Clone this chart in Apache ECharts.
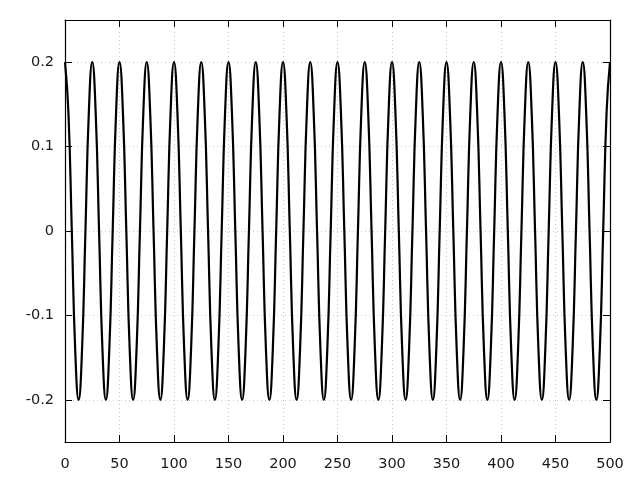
<!DOCTYPE html>
<html>
<head>
<meta charset="utf-8">
<script src="https://cdn.jsdelivr.net/npm/echarts@6/dist/echarts.min.js"></script>
<style>html,body{margin:0;padding:0;background:#fff}#c{width:640px;height:480px}</style>
</head>
<body>
<div id="c"></div>
<script>
const xValues = [
0,3.125,6.25,9.375,12.5,15.625,18.75,21.875,
25,28.125,31.25,34.375,37.5,40.625,43.75,46.875,
50,53.125,56.25,59.375,62.5,65.625,68.75,71.875,
75,78.125,81.25,84.375,87.5,90.625,93.75,96.875,
100,103.125,106.25,109.375,112.5,115.625,118.75,121.875,
125,128.125,131.25,134.375,137.5,140.625,143.75,146.875,
150,153.125,156.25,159.375,162.5,165.625,168.75,171.875,
175,178.125,181.25,184.375,187.5,190.625,193.75,196.875,
200,203.125,206.25,209.375,212.5,215.625,218.75,221.875,
225,228.125,231.25,234.375,237.5,240.625,243.75,246.875,
250,253.125,256.25,259.375,262.5,265.625,268.75,271.875,
275,278.125,281.25,284.375,287.5,290.625,293.75,296.875,
300,303.125,306.25,309.375,312.5,315.625,318.75,321.875,
325,328.125,331.25,334.375,337.5,340.625,343.75,346.875,
350,353.125,356.25,359.375,362.5,365.625,368.75,371.875,
375,378.125,381.25,384.375,387.5,390.625,393.75,396.875,
400,403.125,406.25,409.375,412.5,415.625,418.75,421.875,
425,428.125,431.25,434.375,437.5,440.625,443.75,446.875,
450,453.125,456.25,459.375,462.5,465.625,468.75,471.875,
475,478.125,481.25,484.375,487.5,490.625,493.75,496.875,
500
];
const yValues = [
0.2,0.141,0,-0.141,-0.2,-0.141,0,0.141,
0.2,0.141,0,-0.141,-0.2,-0.141,0,0.141,
0.2,0.141,0,-0.141,-0.2,-0.141,0,0.141,
0.2,0.141,0,-0.141,-0.2,-0.141,0,0.141,
0.2,0.141,0,-0.141,-0.2,-0.141,0,0.141,
0.2,0.141,0,-0.141,-0.2,-0.141,0,0.141,
0.2,0.141,0,-0.141,-0.2,-0.141,0,0.141,
0.2,0.141,0,-0.141,-0.2,-0.141,0,0.141,
0.2,0.141,0,-0.141,-0.2,-0.141,0,0.141,
0.2,0.141,0,-0.141,-0.2,-0.141,0,0.141,
0.2,0.141,0,-0.141,-0.2,-0.141,0,0.141,
0.2,0.141,0,-0.141,-0.2,-0.141,0,0.141,
0.2,0.141,0,-0.141,-0.2,-0.141,0,0.141,
0.2,0.141,0,-0.141,-0.2,-0.141,0,0.141,
0.2,0.141,0,-0.141,-0.2,-0.141,0,0.141,
0.2,0.141,0,-0.141,-0.2,-0.141,0,0.141,
0.2,0.141,0,-0.141,-0.2,-0.141,0,0.141,
0.2,0.141,0,-0.141,-0.2,-0.141,0,0.141,
0.2,0.141,0,-0.141,-0.2,-0.141,0,0.141,
0.2,0.141,0,-0.141,-0.2,-0.141,0,0.141,
0.2
];
const xTicks = {min: 0, max: 500, interval: 50};
const yTicks = {min: -0.25, max: 0.25, splitNumber: 5};

const seriesData = xValues.map((x, i) => [x, yValues[i]]);
const font = {fontFamily: 'DejaVu Sans', fontSize: 14.5, color: '#1a1a1a'};
const gridLine = {show: true, lineStyle: {color: '#c8c8c8', width: 1, type: [1, 3]}};
const axisLine = {show: true, onZero: false, lineStyle: {color: '#000', width: 1.2}};
const tick = {show: true, inside: true, length: 7, lineStyle: {color: '#000', width: 1}};

const chart = echarts.init(document.getElementById('c'), null, {renderer: 'canvas'});
chart.setOption({
  animation: false,
  backgroundColor: '#fff',
  grid: {left: 65, right: 30, top: 20, bottom: 38, containLabel: false},
  xAxis: [
    {type: 'value', min: xTicks.min, max: xTicks.max, interval: xTicks.interval, position: 'bottom',
     axisLine: axisLine, axisTick: tick, splitLine: gridLine,
     axisLabel: Object.assign({margin: 15}, font)},
    {type: 'value', min: xTicks.min, max: xTicks.max, interval: xTicks.interval, position: 'top',
     axisLine: axisLine, axisTick: tick, splitLine: {show: false}, axisLabel: {show: false}}
  ],
  yAxis: [
    {type: 'value', min: yTicks.min, max: yTicks.max, splitNumber: yTicks.splitNumber, position: 'left',
     axisLine: axisLine, axisTick: tick, splitLine: gridLine,
     axisLabel: Object.assign({margin: 11, formatter: v => (Math.abs(Math.abs(v) - 0.25) < 1e-9 ? '' : String(Math.round(v * 10) / 10))}, font)},
    {type: 'value', min: yTicks.min, max: yTicks.max, splitNumber: yTicks.splitNumber, position: 'right',
     axisLine: axisLine, axisTick: tick, splitLine: {show: false}, axisLabel: {show: false}}
  ],
  series: [{
    type: 'line', xAxisIndex: 0, yAxisIndex: 0, data: seriesData,
    showSymbol: false, smooth: true,
    lineStyle: {color: '#000', width: 2.2}
  }]
});
</script>
</body>
</html>
